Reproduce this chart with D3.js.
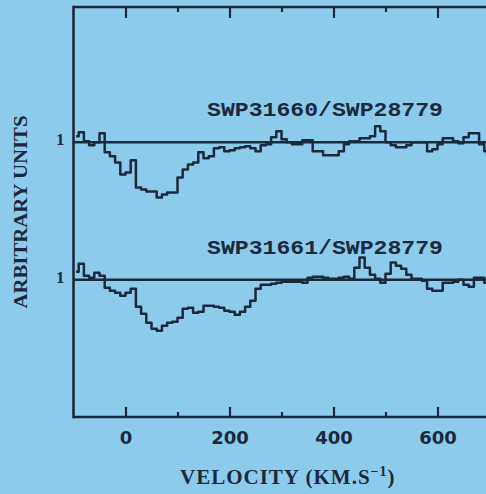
<!DOCTYPE html>
<html><head><meta charset="utf-8">
<script src="https://cdn.jsdelivr.net/npm/d3@7"></script>
<style>
html,body{margin:0;padding:0;background:#8dcbec;}
svg{display:block;}
</style></head>
<body>
<svg id="c" width="486" height="494"></svg>
<script>
// ---- data ----
const velocity = [-95,-85,-75,-65,-55,-45,-35,-25,-15,-5,5,15,25,35,45,55,65,75,85,95,105,115,125,135,145,155,165,175,185,195,205,215,225,235,245,255,265,275,285,295,305,315,325,335,345,355,365,375,385,395,405,415,425,435,445,455,465,475,485,495,505,515,525,535,545,555,565,575,585,595,605,615,625,635,645,655,665,675,685,695,705];
const fluxSWP31660 = [1.06,1.10,1.01,0.97,1.00,1.09,0.90,0.86,0.80,0.68,0.70,0.82,0.55,0.53,0.51,0.51,0.45,0.48,0.50,0.50,0.65,0.73,0.78,0.80,0.90,0.84,0.86,0.94,0.95,0.91,0.92,0.94,0.95,0.96,0.94,0.91,0.97,0.98,1.05,1.11,1.03,1.00,0.98,0.98,1.02,1.02,0.91,0.91,0.87,0.87,0.87,0.91,0.98,1.01,1.01,1.04,1.04,1.06,1.16,1.11,1.00,0.97,0.95,0.95,0.97,1.00,1.00,1.00,0.91,0.93,0.98,1.04,1.04,1.01,0.99,1.05,1.09,1.09,0.98,0.91,0.91];
const fluxSWP31661 = [1.08,1.16,1.04,1.02,1.07,1.04,0.92,0.89,0.87,0.84,0.87,0.91,0.73,0.66,0.57,0.51,0.49,0.54,0.57,0.58,0.62,0.71,0.72,0.67,0.68,0.74,0.74,0.73,0.72,0.69,0.68,0.65,0.68,0.73,0.79,0.91,0.95,0.95,0.96,0.97,0.98,0.98,0.98,0.98,0.97,1.02,1.03,1.03,1.02,1.01,1.01,1.02,1.03,1.01,1.12,1.22,1.12,1.05,1.01,0.97,1.06,1.17,1.14,1.11,1.05,1.01,1.01,0.99,0.91,0.89,0.89,0.97,0.97,0.98,1.00,0.95,0.93,1.02,1.02,0.97,0.97];
const seriesLabels = ["SWP31660/SWP28779","SWP31661/SWP28779"];
const seriesOffsets = [1.37, 0];
const xTickValues = [0,200,400,600];
const xMinorTicks = [100,300,500];
const yTickLabels = ["1","1"];
const xTitle = "VELOCITY (KM.S";
const yTitle = "ARBITRARY UNITS";

(function(){
// ---- layout ----
const ink = "#1b2a3b";
const svg = d3.select("#c");
const padL = 73.5, padT = 7, padB = 417;
const x = d3.scaleLinear().domain([-100, 800]).range([padL, padL + 0.52*900]);
const y = d3.scaleLinear().domain([-0.37, 3.72]).range([padB, padT]);

const g = svg.append("g");

// frame lines
g.append("line").attr("x1",padL).attr("x2",486).attr("y1",padT).attr("y2",padT)
  .attr("stroke",ink).attr("stroke-width",2.6);
g.append("line").attr("x1",padL).attr("x2",486).attr("y1",padB).attr("y2",padB)
  .attr("stroke",ink).attr("stroke-width",2.6);
g.append("line").attr("x1",padL).attr("x2",padL).attr("y1",padT-1.3).attr("y2",padB+1.3)
  .attr("stroke",ink).attr("stroke-width",2.6);

// bottom axis ticks (inward)
const xb = g.append("g").attr("transform",`translate(0,${padB})`)
  .call(d3.axisBottom(x).tickValues(xTickValues).tickSize(-10).tickSizeOuter(0).tickPadding(14).tickFormat(d3.format("d")));
xb.select(".domain").remove();
xb.selectAll(".tick line").attr("stroke",ink).attr("stroke-width",2.2);
xb.selectAll(".tick text").attr("fill",ink).style("font-family","'DejaVu Sans'").style("font-weight","bold").style("font-size","18px");
const xbm = g.append("g").attr("transform",`translate(0,${padB})`)
  .call(d3.axisBottom(x).tickValues(xMinorTicks).tickSize(-5).tickSizeOuter(0).tickFormat(""));
xbm.select(".domain").remove();
xbm.selectAll(".tick line").attr("stroke",ink).attr("stroke-width",2.2);

// top axis ticks (inward)
const xt = g.append("g").attr("transform",`translate(0,${padT})`)
  .call(d3.axisTop(x).tickValues(xTickValues).tickSize(-11).tickSizeOuter(0).tickFormat(""));
xt.select(".domain").remove();
xt.selectAll(".tick line").attr("stroke",ink).attr("stroke-width",2.2);
const xtm = g.append("g").attr("transform",`translate(0,${padT})`)
  .call(d3.axisTop(x).tickValues(xMinorTicks).tickSize(-5).tickSizeOuter(0).tickFormat(""));
xtm.select(".domain").remove();
xtm.selectAll(".tick line").attr("stroke",ink).attr("stroke-width",2.2);

// left axis labels "1"
const ya = g.append("g").attr("transform",`translate(${padL},0)`)
  .call(d3.axisLeft(y).tickValues(seriesOffsets.map(o=>1+o)).tickSize(0).tickPadding(9)
    .tickFormat((d,i)=>yTickLabels[i]));
ya.select(".domain").remove();
ya.selectAll(".tick text").attr("fill",ink).attr("dy","0.15em")
  .style("font-family","'Liberation Serif'").style("font-weight","bold").style("font-size","17px");

// continuum lines and spectra
const fluxes = [fluxSWP31660, fluxSWP31661];
const line = d3.line().curve(d3.curveStep).x(d=>x(d[0])).y(d=>y(d[1]));
fluxes.forEach((f,i)=>{
  const off = seriesOffsets[i];
  g.append("line").attr("x1",padL).attr("x2",486)
    .attr("y1",y(1+off)).attr("y2",y(1+off))
    .attr("stroke",ink).attr("stroke-width",2.5);
  const pts = velocity.map((v,j)=>[v, f[j]+off]);
  g.append("path").attr("d",line(pts)).attr("fill","none")
    .attr("stroke",ink).attr("stroke-width",2.5).attr("stroke-linejoin","round");
  g.append("text").attr("x",207).attr("y",y(1+off)-26)
    .attr("textLength",236).attr("lengthAdjust","spacingAndGlyphs")
    .attr("fill",ink).style("font-family","'Liberation Mono'").style("font-weight","bold")
    .style("font-size","20px").text(seriesLabels[i]);
});

// axis titles
const xt2 = g.append("text").attr("x",180).attr("y",484).attr("fill",ink)
  .style("letter-spacing","1px")
  .style("font-family","'Liberation Serif'").style("font-weight","bold").style("font-size","21px");
xt2.append("tspan").text(xTitle);
xt2.append("tspan").attr("dy","-8").style("font-size","14px").text("\u22121");
xt2.append("tspan").attr("dy","8").text(")");

g.append("text").attr("transform","translate(26.5,212) rotate(-90)")
  .attr("text-anchor","middle").attr("fill",ink)
  .attr("textLength",193).attr("lengthAdjust","spacingAndGlyphs")
  .style("font-family","'Liberation Serif'").style("font-weight","bold").style("font-size","18px")
  .text(yTitle);
})();
</script>
</body></html>
